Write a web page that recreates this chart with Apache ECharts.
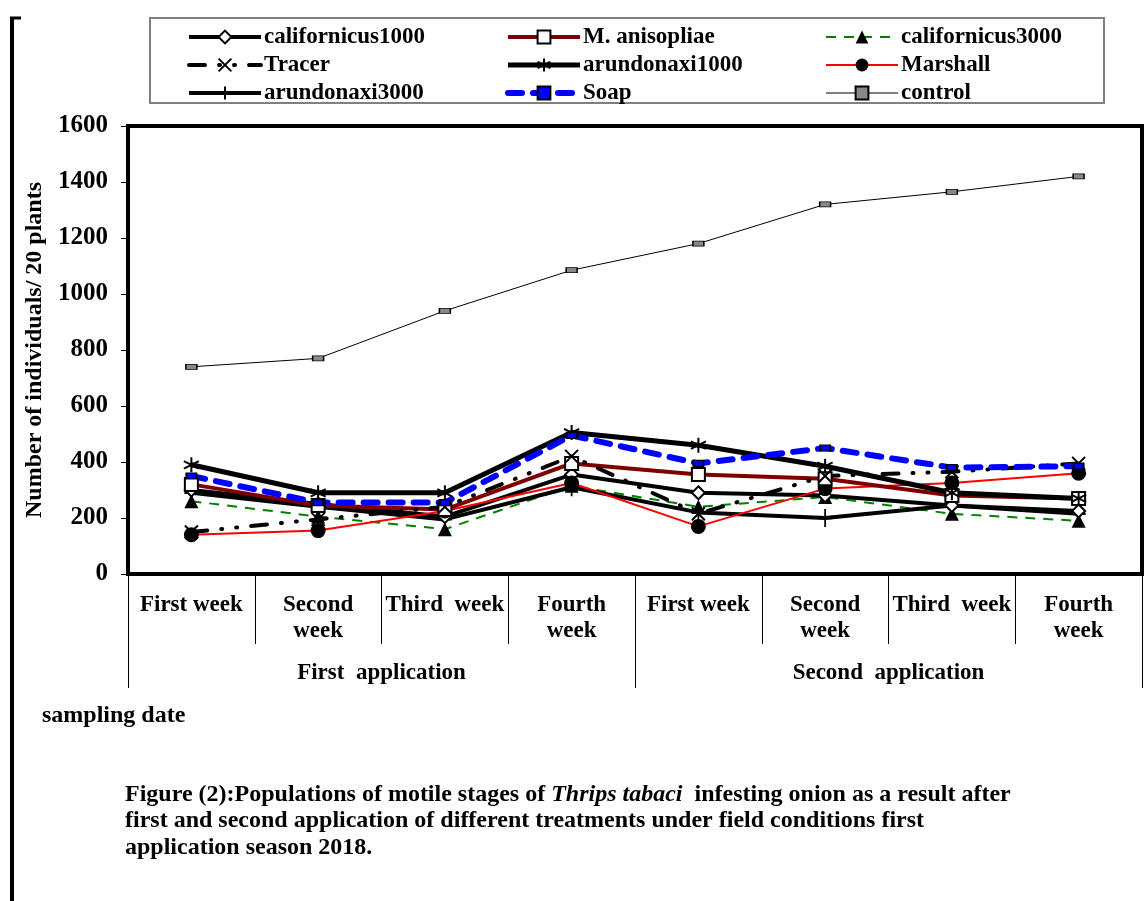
<!DOCTYPE html>
<html>
<head>
<meta charset="utf-8">
<script src="https://cdn.jsdelivr.net/npm/echarts@6/dist/echarts.min.js"></script>
<style>
  html, body { margin: 0; padding: 0; background: #fff; }
  #chart { width: 1146px; height: 901px; }
</style>
</head>
<body>
<div id="chart"></div>
<script>
// categories
const weeks = ['First week', 'Second\nweek', 'Third  week', 'Fourth\nweek',
               'First week', 'Second\nweek', 'Third  week', 'Fourth\nweek'];
const applications = ['First  application', 'Second  application'];
const yTicks = { min: 0, max: 1600, interval: 200 };

// series values (individuals / 20 plants)
const californicus1000 = [300, 250, 205, 355, 290, 280, 245, 225];
const mAnisopliae      = [320, 245, 230, 395, 355, 340, 280, 270];
const californicus3000 = [260, 205, 160, 315, 240, 275, 215, 190];
const tracer           = [150, 195, 240, 420, 215, 350, 365, 395];
const arundonaxi1000   = [390, 290, 290, 505, 460, 385, 290, 270];
const marshall         = [140, 155, 225, 325, 170, 305, 325, 360];
const arundonaxi3000   = [290, 240, 195, 310, 220, 200, 245, 215];
const soap             = [350, 255, 255, 495, 395, 450, 380, 385];
const control          = [740, 770, 940, 1085, 1180, 1320, 1365, 1420];

const FONT = 'Liberation Serif';
const X_PATH = 'path://M0,0L10,10M10,0L0,10';
const STAR_PATH = 'path://M5,0L5,10M0.7,2.5L9.3,7.5M9.3,2.5L0.7,7.5';
const PLUS_PATH = 'path://M5,0L5,10M0,5L10,5';

function line(name, data, lineStyle, symbol, symbolSize, itemStyle) {
  return {
    name: name,
    type: 'line',
    data: data,
    symbol: symbol,
    symbolSize: symbolSize,
    lineStyle: lineStyle,
    itemStyle: itemStyle,
    emphasis: { disabled: true },
    animation: false
  };
}

const series = [
  line('control', control, { color: '#000', width: 1 }, 'rect', [11, 5],
       { color: '#888', borderColor: '#000', borderWidth: 1 }),
  line('californicus3000', californicus3000, { color: '#008000', width: 2, type: [10, 8] },
       'triangle', 14, { color: '#000', borderColor: '#000', borderWidth: 0 }),
  line('arundonaxi3000', arundonaxi3000, { color: '#000', width: 4 }, PLUS_PATH, [14, 18],
       { color: '#000', borderColor: '#000', borderWidth: 2 }),
  line('californicus1000', californicus1000, { color: '#000', width: 4 }, 'diamond', 13,
       { color: '#fff', borderColor: '#000', borderWidth: 2 }),
  line('Marshall', marshall, { color: '#ff0000', width: 2 }, 'circle', 15,
       { color: '#000', borderColor: '#000', borderWidth: 0 }),
  line('M. anisopliae', mAnisopliae, { color: '#800000', width: 4 }, 'rect', 13,
       { color: '#fff', borderColor: '#000', borderWidth: 2 }),
  line('Tracer', tracer, { color: '#000', width: 4, type: [16, 14, 1, 14, 1, 14], cap: 'round' },
       X_PATH, 13, { color: '#000', borderColor: '#000', borderWidth: 2 }),
  line('arundonaxi1000', arundonaxi1000, { color: '#000', width: 5 }, STAR_PATH, 15,
       { color: '#000', borderColor: '#000', borderWidth: 2 }),
  line('Soap', soap, { color: '#0000ff', width: 6, type: [14, 11], cap: 'round' }, 'rect', [10, 6],
       { color: '#0000ff', borderColor: '#000', borderWidth: 1.5 })
];

function legendCol(left, names) {
  return {
    orient: 'vertical',
    left: left,
    top: 25,
    padding: 0,
    itemWidth: 72,
    itemHeight: 16,
    itemGap: 4,
    selectedMode: false,
    lineStyle: { width: 'inherit' },
    data: names,
    textStyle: { fontFamily: FONT, fontWeight: 'bold', fontSize: 23, color: '#000', lineHeight: 24, padding: [0, 0, 0, -2] }
  };
}

const chart = echarts.init(document.getElementById('chart'));
chart.setOption({
  animation: false,
  backgroundColor: '#fff',
  legend: [
    legendCol(187, ['californicus1000', 'Tracer', 'arundonaxi3000']),
    legendCol(505, ['M. anisopliae', 'arundonaxi1000', 'Soap']),
    legendCol(825, ['californicus3000', 'Marshall', 'control'])
  ],
  grid: {
    left: 128, right: 4, top: 126, bottom: 327,
    show: true, borderColor: '#000', borderWidth: 4, backgroundColor: 'transparent'
  },
  xAxis: [
    {
      type: 'category',
      data: weeks,
      position: 'bottom',
      boundaryGap: true,
      axisLine: { show: false },
      axisTick: { show: true, interval: 0, length: 70, lineStyle: { color: '#000', width: 1 } },
      axisLabel: {
        interval: 0, margin: 18,
        fontFamily: FONT, fontWeight: 'bold', fontSize: 23, color: '#000', lineHeight: 26
      },
      splitLine: { show: false }
    },
    {
      type: 'category',
      data: applications,
      position: 'bottom',
      offset: 0,
      boundaryGap: true,
      axisLine: { show: false },
      axisTick: { show: true, interval: 0, length: 114, lineStyle: { color: '#000', width: 1 } },
      axisLabel: {
        interval: 0, margin: 88,
        fontFamily: FONT, fontWeight: 'bold', fontSize: 23, color: '#000'
      },
      splitLine: { show: false }
    }
  ],
  yAxis: {
    type: 'value',
    min: yTicks.min, max: yTicks.max, interval: yTicks.interval,
    name: 'Number of individuals/ 20 plants',
    nameLocation: 'middle',
    nameRotate: 90,
    nameGap: 76,
    nameTextStyle: { fontFamily: FONT, fontWeight: 'bold', fontSize: 24, color: '#000' },
    axisLine: { show: true, lineStyle: { color: '#000', width: 1 } },
    axisTick: { show: true, length: 7, lineStyle: { color: '#000', width: 1 } },
    axisLabel: {
      margin: 20, fontFamily: FONT, fontWeight: 'bold', fontSize: 25, color: '#000',
      formatter: function (v) { return String(v); }
    },
    splitLine: { show: false }
  },
  series: series,
  graphic: [
    { type: 'rect', shape: { x: 150, y: 18, width: 954, height: 85 }, z: -1,
      style: { fill: '#fff', stroke: '#808080', lineWidth: 2 } },
    { type: 'line', shape: { x1: 12, y1: 18, x2: 12, y2: 901 }, style: { stroke: '#000', lineWidth: 4 } },
    { type: 'line', shape: { x1: 10, y1: 18, x2: 21, y2: 18 }, style: { stroke: '#000', lineWidth: 3 } },
    { type: 'text', left: 42, top: 704,
      style: { text: 'sampling date', font: 'bold 24px "Liberation Serif"', fill: '#000' } },
    { type: 'text', left: 125, top: 783,
      style: {
        text: '{b|Figure (2):Populations of motile stages of }{i|Thrips tabaci}{b|  infesting onion as a result after}',
        rich: {
          b: { fontFamily: FONT, fontWeight: 'bold', fontSize: 24, fill: '#000' },
          i: { fontFamily: FONT, fontWeight: 'bold', fontStyle: 'italic', fontSize: 24, fill: '#000' }
        }
      } },
    { type: 'text', left: 125, top: 809,
      style: { text: 'first and second application of different treatments under field conditions first',
               font: 'bold 24px "Liberation Serif"', fill: '#000' } },
    { type: 'text', left: 125, top: 836,
      style: { text: 'application season 2018.', font: 'bold 24px "Liberation Serif"', fill: '#000' } }
  ]
});
</script>
</body>
</html>
